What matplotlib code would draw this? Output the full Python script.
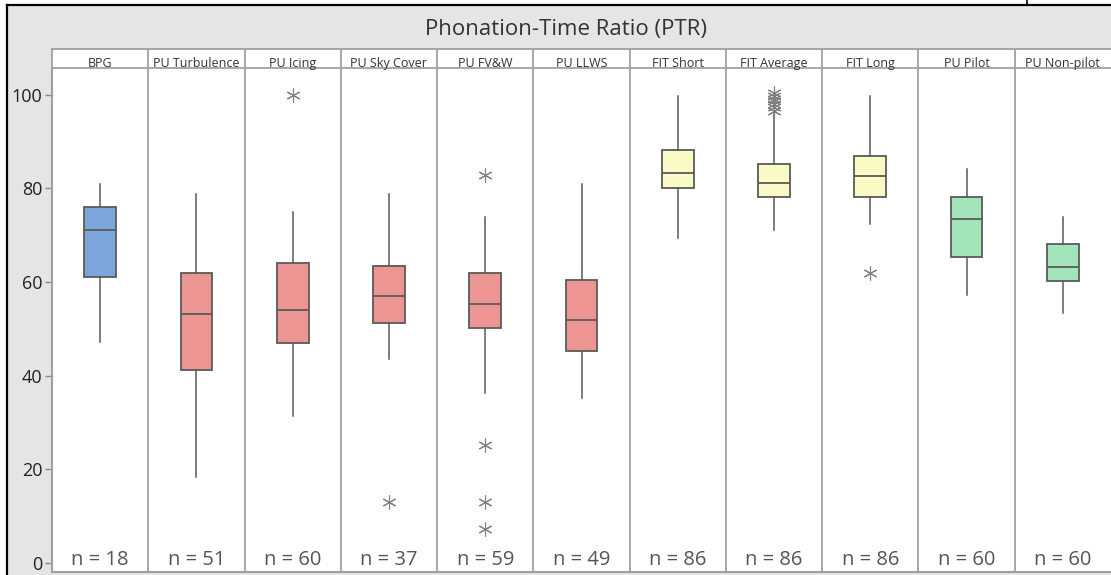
import matplotlib
matplotlib.use('Agg')
import matplotlib.pyplot as plt
from matplotlib.patches import Rectangle
from matplotlib.lines import Line2D

plt.rcParams['font.family'] = ['Open Sans', 'DejaVu Sans']

# box summaries: whisker low, Q1, median, Q3, whisker high, outliers
groups = ['BPG', 'PU Turbulence', 'PU Icing', 'PU Sky Cover', 'PU FV&W', 'PU LLWS',
          'FIT Short', 'FIT Average', 'FIT Long', 'PU Pilot', 'PU Non-pilot']
whislo = [47.2, 18.4, 31.4, 43.5, 36.4, 35.2, 69.3, 71.1, 72.3, 57.2, 53.4]
q1     = [61.1, 41.2, 47.0, 51.2, 50.2, 45.3, 80.0, 78.2, 78.2, 65.3, 60.3]
med    = [71.2, 53.2, 54.0, 57.1, 55.3, 52.0, 83.2, 81.2, 82.6, 73.4, 63.2]
q3     = [76.0, 62.0, 64.0, 63.5, 62.0, 60.4, 88.2, 85.2, 86.9, 78.2, 68.2]
whishi = [80.9, 78.9, 75.0, 78.8, 73.8, 80.9, 99.7, 95.8, 99.7, 84.1, 73.8]
fliers = [[], [], [100.0], [13.1], [82.8, 25.2, 13.1, 7.2], [], [],
          [100.3, 99.7, 99.1, 98.6, 98.0, 97.3, 96.6], [62.0], [], []]
counts = [18, 51, 60, 37, 59, 49, 86, 86, 86, 60, 60]
colors = ['#7BA6DA'] + ['#EC9593'] * 5 + ['#FAFAC7'] * 3 + ['#A3E4BB'] * 2

W, H = 1111, 575
fig = plt.figure(figsize=(W / 100, H / 100), dpi=100)

# grey frame background with black top/left border
fig.patches.append(Rectangle((7 / W, 0), 1 - 7 / W, 1 - 5 / H, transform=fig.transFigure,
                             facecolor='#E5E5E5', edgecolor='none', zorder=-10))
fig.lines.append(Line2D([7 / W, 1], [1 - 5 / H, 1 - 5 / H], transform=fig.transFigure,
                        color='black', lw=1.6))
fig.lines.append(Line2D([7 / W, 7 / W], [0, 1 - 5 / H], transform=fig.transFigure,
                        color='black', lw=1.6))
fig.lines.append(Line2D([1027 / W, 1027 / W], [1 - 5 / H, 1], transform=fig.transFigure,
                        color='black', lw=1.2))

fig.text(566 / W, 1 - 29 / H, 'Phonation-Time Ratio (PTR)', ha='center', va='center',
         fontsize=16, color='#333333')

left = 52 / W
width = 1059 / W
ax = fig.add_axes([left, 1 - 572 / H, width, (572 - 68) / H])
strip = fig.add_axes([left, 1 - 68 / H, width, 19 / H])

stats = []
for i in range(len(groups)):
    stats.append(dict(whislo=whislo[i], q1=q1[i], med=med[i], q3=q3[i],
                      whishi=whishi[i], fliers=fliers[i]))

bp = ax.bxp(stats, positions=range(1, len(groups) + 1), widths=0.33, patch_artist=True,
            showcaps=False,
            boxprops=dict(edgecolor='#5A5A5A', linewidth=1.3),
            medianprops=dict(color='#5A5A5A', linewidth=1.3),
            whiskerprops=dict(color='#5A5A5A', linewidth=1.1),
            flierprops=dict(marker=(6, 2, 0), markersize=10, markeredgecolor='#808080',
                            markeredgewidth=0.8, linestyle='none'))
for patch, c in zip(bp['boxes'], colors):
    patch.set_facecolor(c)

ax.set_xlim(0.5, len(groups) + 0.5)
ax.set_ylim(-1.9, 105.7)
ax.set_yticks([0, 20, 40, 60, 80, 100])
ax.set_xticks([])
ax.tick_params(axis='y', length=5, width=1, color='#888888', labelsize=13,
               labelcolor='#222222', pad=2)
for s in ['top', 'right']:
    ax.spines[s].set_visible(False)
for s in ['left', 'bottom']:
    ax.spines[s].set_color('#A0A0A0')
    ax.spines[s].set_linewidth(1.5)

for k in range(1, len(groups)):
    ax.axvline(k + 0.5, color='#A0A0A0', lw=1.3, zorder=0)
    strip.axvline(k + 0.5, color='#A0A0A0', lw=1.3)

for i, n in enumerate(counts):
    ax.text(i + 1, -0.4, 'n = %d' % n, ha='center', va='baseline', fontsize=14.5,
            color='#555555')

strip.set_xlim(0.5, len(groups) + 0.5)
strip.set_ylim(0, 1)
strip.set_xticks([])
strip.set_yticks([])
for s in strip.spines.values():
    s.set_color('#A0A0A0')
    s.set_linewidth(1.3)
strip.spines['right'].set_visible(False)
for i, g in enumerate(groups):
    strip.text(i + 1, 0.06, g, ha='center', va='baseline', fontsize=9, color='#333333')

fig.savefig('out.png', dpi=100)
